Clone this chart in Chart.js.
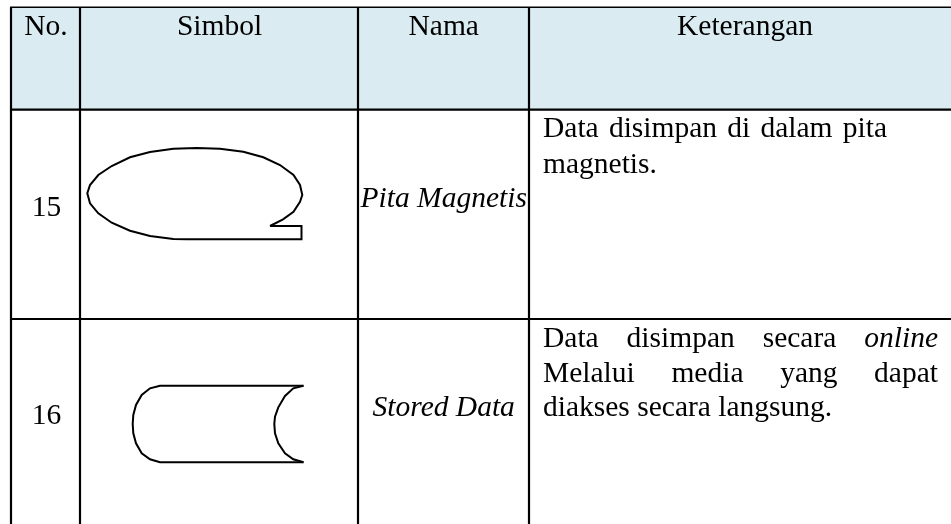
<!DOCTYPE html>
<html>
<head>
<meta charset="utf-8">
<style>html,body{margin:0;padding:0;background:#fff}canvas{display:block}</style>
<script src="https://cdn.jsdelivr.net/npm/chart.js@4"></script>
</head>
<body>
<canvas id="c" width="951" height="524"></canvas>
<script>
// Table content
const headers = ['No.', 'Simbol', 'Nama', 'Keterangan'];
const rowNumbers = ['15', '16'];
const rowNames = ['Pita Magnetis', 'Stored Data'];
const rowNotes = [
  [{w:'Data disimpan di dalam pita', lineEnd:887}, {w:'magnetis.'}],
  [{w:'Data disimpan secara *online', lineEnd:938}, {w:'Melalui media yang dapat', lineEnd:938}, {w:'diakses secara langsung.'}]
];
// Grid (page units)
const columnEdges = [11, 80, 358, 529];
const rowEdges = [7.3, 109.7, 319];
const tableRight = 951, tableBottom = 524;
const headerCentres = [46, 219.5, 443.7, 745];
const numberCentre = 46.5, nameCentre = 443.7, noteLeft = 543;
const headerBaseline = 35;
const numberBaselines = [216, 424];
const nameBaselines = [207, 416];
const noteBaselines = [[137, 172.7], [347.3, 381.7, 415.7]];
// Symbol outlines
const tapeX = [270,283,293.5,300,302.3,300,293.5,280,263.3,243.3,220,196.7,173.3,150,130,111.7,98.3,90,87.3,90,98.3,111.7,130,150,173.3,186.7,301.5,301.5,270];
const tapeY = [226,219.3,211.7,201.7,195,185,175,165,157.3,151.7,148.7,148,148.7,152,157.3,166,175,185,193.3,203.3,213.3,222.7,230.7,236,239,239.3,239.3,226,226];
const storedOuterX = [303.5,160,150,141.7,136,133.3,132.7,133.3,136,141.7,150,160,303.5];
const storedOuterY = [385.7,385.7,388.3,395,405,415,424,433.3,443.3,453.3,459.3,462.3,462.3];
const storedInnerX = [303.5,293.3,285,278.3,275,274.3,275,278.3,285,293.3,303.5];
const storedInnerY = [385.7,388.3,396,407.3,416.7,424,433.3,443.3,453.3,459.3,462.3];

const zip = (xs, ys) => xs.map((x, i) => ({x, y: ys[i]}));
const lineSet = (data, width) => ({type:'line', data, borderColor:'#000', borderWidth:width, pointRadius:0, fill:false, tension:0, spanGaps:false, clip:false});
const gridH = rowEdges.map((y, i) => lineSet([{x:columnEdges[0]-1, y},{x:tableRight, y}], i === 0 ? 1.5 : 2.2));
const gridV = columnEdges.map(x => lineSet([{x, y:rowEdges[0]},{x, y:tableBottom}], 2.2));

const textPlugin = {
  id:'tableText',
  afterDatasetsDraw(chart){
    const {ctx, scales:{x:sx, y:sy}} = chart;
    const size = 29.5;
    const reg = `${size}px "Liberation Serif"`, ita = `italic ${size}px "Liberation Serif"`;
    ctx.save();
    ctx.fillStyle = '#000';
    ctx.textBaseline = 'alphabetic';
    ctx.textAlign = 'center';
    ctx.font = reg;
    headers.forEach((t, i) => ctx.fillText(t, sx.getPixelForValue(headerCentres[i]), sy.getPixelForValue(headerBaseline)));
    rowNumbers.forEach((t, i) => ctx.fillText(t, sx.getPixelForValue(numberCentre), sy.getPixelForValue(numberBaselines[i])));
    ctx.font = ita;
    rowNames.forEach((t, i) => ctx.fillText(t, sx.getPixelForValue(nameCentre), sy.getPixelForValue(nameBaselines[i])));
    ctx.textAlign = 'left';
    rowNotes.forEach((lines, r) => lines.forEach((line, l) => {
      const y = sy.getPixelForValue(noteBaselines[r][l]);
      const left = sx.getPixelForValue(noteLeft);
      if (!line.lineEnd) { ctx.font = reg; ctx.fillText(line.w, left, y); return; }
      const words = line.w.split(' ').map(w => w[0] === '*' ? {t:w.slice(1), f:ita} : {t:w, f:reg});
      words.forEach(w => { ctx.font = w.f; w.m = ctx.measureText(w.t).width; });
      const total = words.reduce((a, w) => a + w.m, 0);
      const gap = (sx.getPixelForValue(line.lineEnd) - left - total) / (words.length - 1);
      let x = left;
      words.forEach(w => { ctx.font = w.f; ctx.fillText(w.t, x, y); x += w.m + gap; });
    }));
    ctx.restore();
  }
};

new Chart(document.getElementById('c'), {
  type:'scatter',
  data:{datasets:[
    {type:'line', data:[{x:columnEdges[0], y:rowEdges[1]},{x:tableRight, y:rowEdges[1]}], borderWidth:0, borderColor:'transparent', backgroundColor:'#daecf2', pointRadius:0, fill:{value:rowEdges[0]}, order:10},
    ...gridH, ...gridV,
    lineSet(zip(tapeX, tapeY), 2),
    lineSet(zip(storedOuterX, storedOuterY), 2),
    lineSet(zip(storedInnerX, storedInnerY), 2)
  ]},
  options:{
    responsive:false, animation:false,
    layout:{padding:0},
    plugins:{legend:{display:false}, tooltip:{enabled:false}, title:{display:false}},
    scales:{
      x:{type:'linear', display:false, min:0, max:951},
      y:{type:'linear', display:false, min:0, max:524, reverse:true}
    }
  },
  plugins:[textPlugin]
});
</script>
</body>
</html>
